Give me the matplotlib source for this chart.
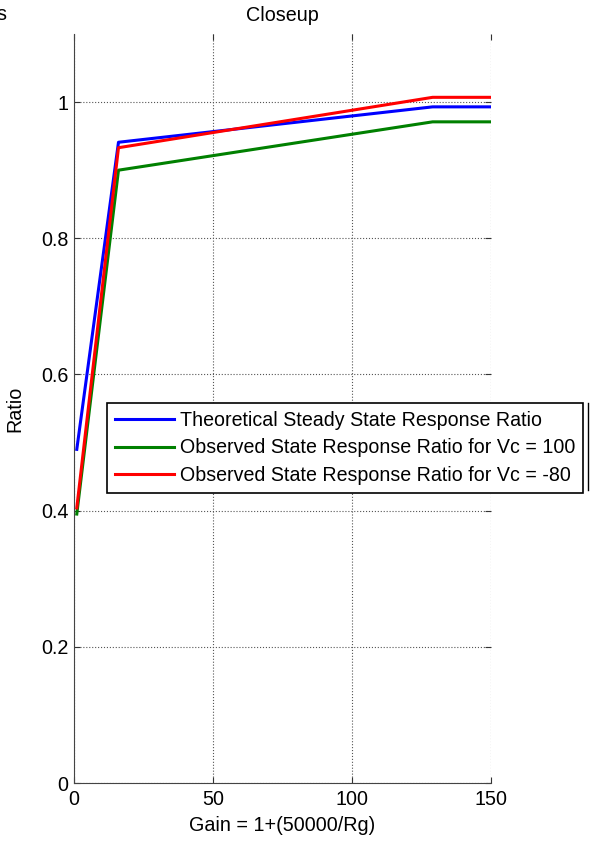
import matplotlib
matplotlib.use("Agg")
import matplotlib.pyplot as plt
from matplotlib.lines import Line2D

plt.rcParams['font.family'] = ['Liberation Sans', 'DejaVu Sans']

# gain values (1 + 50000/Rg)
gain = [1, 16, 129, 150]

# response ratios
theoretical = [0.49, 0.941, 0.993, 0.993]
observed_100 = [0.395, 0.900, 0.971, 0.971]
observed_m80 = [0.404, 0.933, 1.007, 1.007]

labels = ['Theoretical Steady State Response Ratio',
          'Observed State Response Ratio for Vc = 100',
          'Observed State Response Ratio for Vc = -80']

xticks = [0, 50, 100, 150]
yticks = [0, 0.2, 0.4, 0.6, 0.8, 1]
yticklabels = ['0', '0.2', '0.4', '0.6', '0.8', '1']

W, H = 592, 846
fs = 14.2
fig = plt.figure(figsize=(W / 100, H / 100), dpi=100)
ax = fig.add_axes([74 / W, 1 - 783 / H, (491 - 74) / W, (783 - 34) / H])

ax.plot(gain, theoretical, color='#0000ff', lw=2.2, label=labels[0])
ax.plot(gain, observed_100, color='#008000', lw=2.2, label=labels[1])
ax.plot(gain, observed_m80, color='#ff0000', lw=2.2, label=labels[2])

ax.set_xlim(0, 150)
ax.set_ylim(0, 1.1)
ax.set_xticks(xticks)
ax.set_yticks(yticks)
ax.set_yticklabels(yticklabels)
ax.grid(True, color='#555555', linestyle=':', linewidth=0.8)
ax.tick_params(direction='in', length=4, labelsize=fs, top=True, right=True,
               color='#333333')
ax.tick_params(axis='x', pad=5)
ax.tick_params(axis='y', pad=4)
ax.spines['top'].set_visible(False)
ax.spines['right'].set_visible(False)
ax.spines['left'].set_color('#444444')
ax.spines['bottom'].set_color('#444444')

ax.set_title('Closeup', fontsize=fs, pad=9)
ax.set_xlabel('Gain = 1+(50000/Rg)', fontsize=fs, labelpad=5)
ax.set_ylabel('Ratio', fontsize=fs, labelpad=12)

leg = ax.legend(loc='upper left', bbox_to_anchor=(107 / W, 1 - 403 / H),
                bbox_transform=fig.transFigure, borderaxespad=0, fontsize=14.1,
                handlelength=3.0, handletextpad=0.3, fancybox=False,
                framealpha=1, edgecolor='black', labelspacing=0.42,
                borderpad=0.42)
leg.get_frame().set_linewidth(1.2)

# clipped pieces of the neighbouring subplot
fig.text(6 / W, 1 - 14 / H, 's', fontsize=fs, ha='right', va='center')
fig.add_artist(Line2D([588 / W, 588 / W], [1 - 403 / H, 1 - 490 / H],
                      color='black', lw=1.0, transform=fig.transFigure))

fig.savefig('out.png', dpi=100)
